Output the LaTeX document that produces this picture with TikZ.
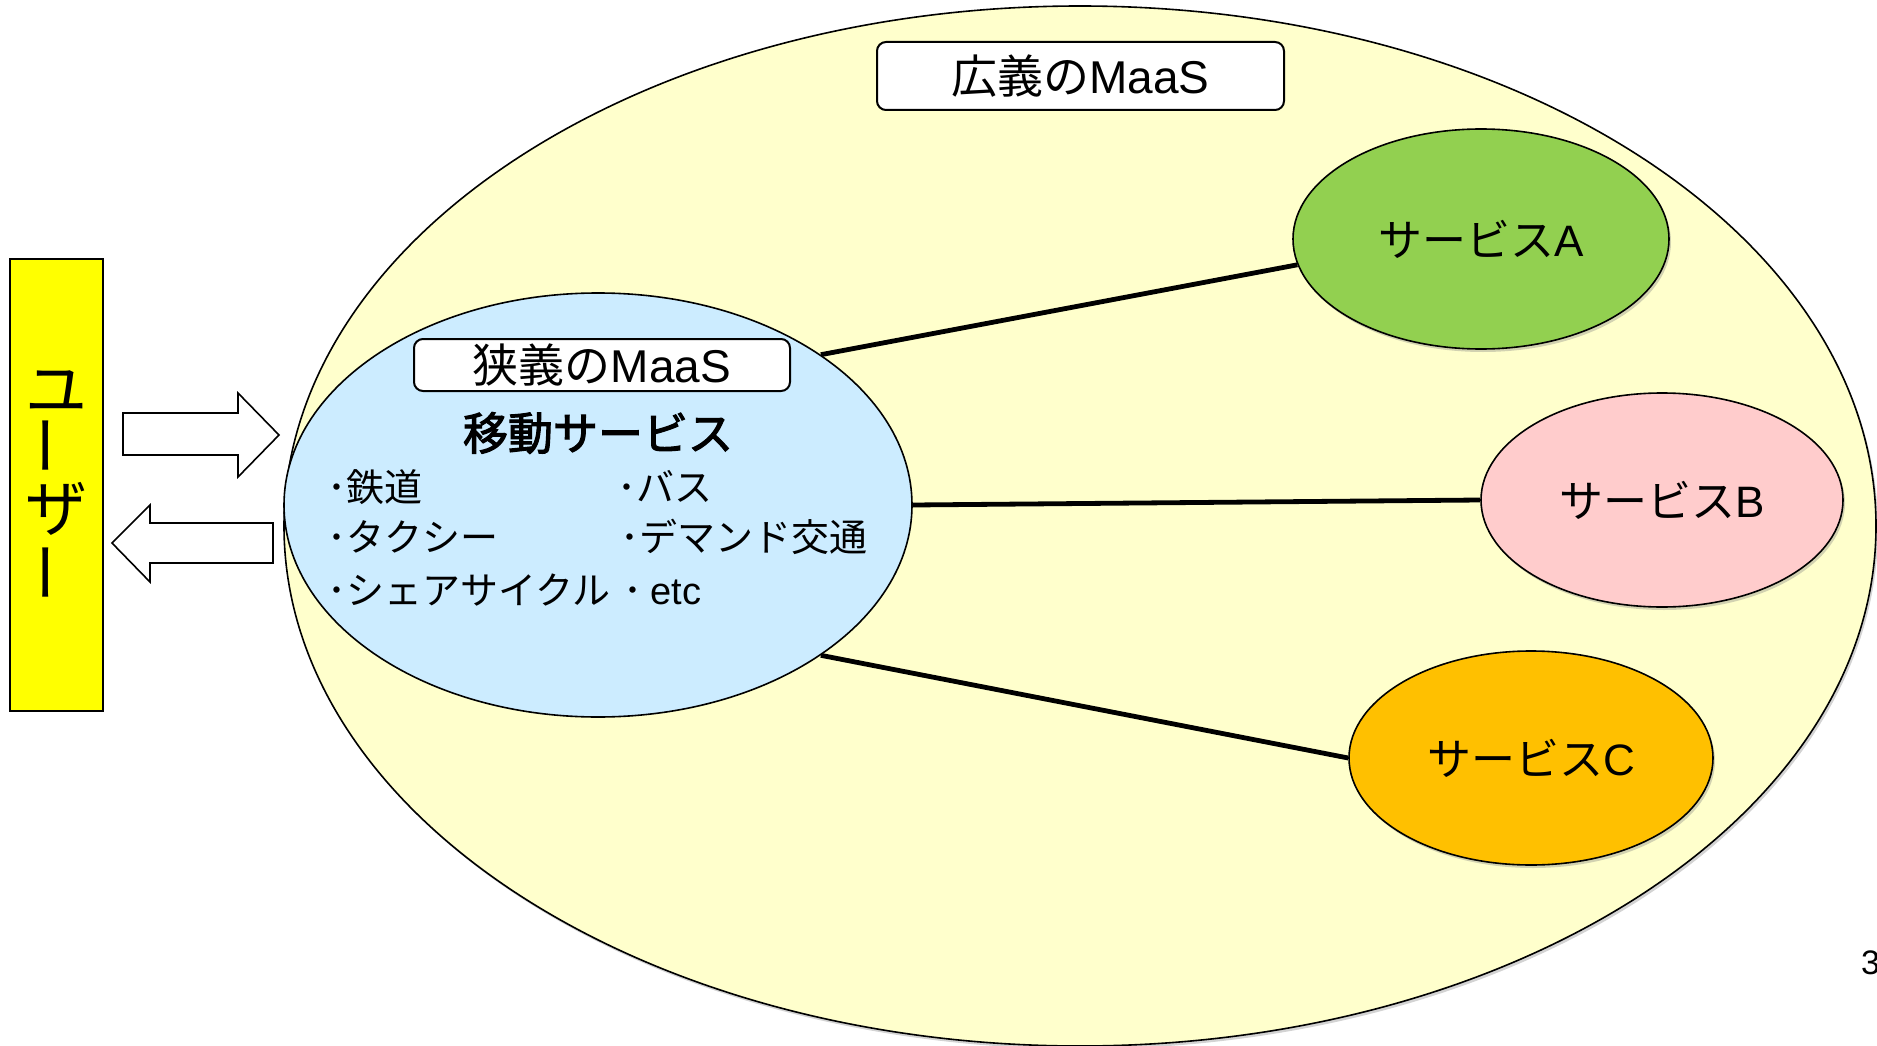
\documentclass[tikz,border=0pt]{standalone}
\usepackage{fontspec}
\setmainfont{Noto Sans CJK JP}
\newfontfamily\lat{Liberation Sans}
\newfontfamily\jpbold{Noto Sans CJK JP}[FakeBold=2.5]
\usetikzlibrary{shadows,shapes.geometric}
\definecolor{bigyellow}{HTML}{FFFFCC}
\definecolor{lightblue}{HTML}{CCECFF}
\definecolor{svcgreen}{HTML}{92D050}
\definecolor{svcpink}{HTML}{FFCCCC}
\definecolor{svcorange}{HTML}{FFC000}
\definecolor{useryellow}{HTML}{FFFF00}
\tikzset{
  oval/.style={ellipse, draw=black, line width=1.6pt, inner sep=0pt},
  shadowed/.style={drop shadow={opacity=0.35, shadow xshift=2pt, shadow yshift=-3pt}},
  roundbox/.style={draw=black, line width=2pt, rounded corners=9pt, fill=white, inner sep=0pt},
  conn/.style={line width=4.8pt, black},
  blockarrow/.style={draw=black, line width=1.6pt, fill=white, line join=miter},
  svctext/.style={font=\fontsize{44}{50}\selectfont},
  itemtext/.style={font=\fontsize{38}{44}\selectfont, anchor=base west, inner sep=0pt},
  usertext/.style={font=\fontsize{62}{66}\selectfont, inner sep=0pt}
}
\begin{document}
\begin{tikzpicture}[x=1pt, y=-1pt]
\useasboundingbox (0,0) rectangle (1877,1046);

% big ellipse (broad MaaS)
\node[oval, shadowed, fill=bigyellow, minimum width=1592pt, minimum height=1040pt] (big) at (1080,526) {};
\node[roundbox, minimum width=407pt, minimum height=68pt, font=\fontsize{46}{50}\selectfont] (broad) at (1080.5,76) {広義の{\lat MaaS}};

% service ellipses
\node[oval, shadowed, fill=svcgreen, minimum width=376pt, minimum height=220pt, svctext] (A) at (1481,239) {サービス{\lat A}};
\node[oval, shadowed, fill=svcpink, minimum width=362pt, minimum height=214pt, svctext] (B) at (1662,500) {サービス{\lat B}};
\node[oval, shadowed, fill=svcorange, minimum width=364pt, minimum height=214pt, svctext] (C) at (1531,758) {サービス{\lat C}};

% narrow MaaS ellipse
\node[oval, fill=lightblue, minimum width=628pt, minimum height=424pt] (narrow) at (598,505) {};
\node[roundbox, minimum width=376pt, minimum height=52pt, font=\fontsize{46}{50}\selectfont] (narrowlabel) at (602,365) {狭義の{\lat MaaS}};
\node[font=\fontsize{45}{50}\jpbold, inner sep=0pt] (mobility) at (598,433) {移動サービス};

\node[itemtext] (i1) at (327,501) {･鉄道};
\node[itemtext] (i2) at (327,551) {･タクシー};
\node[itemtext] (i3) at (327,604) {･シェアサイクル};
\node[itemtext] (i4) at (617,501) {･バス};
\node[itemtext] (i5) at (620,551) {･デマンド交通};
\node[itemtext] (i6) at (623,604) {･ {\lat etc}};

% connectors
\draw[conn] (narrow.34) -- (A.188);
\draw[conn] (narrow.0) -- (B.180);
\draw[conn] (narrow.-34) -- (C.180);

% user box
\node[draw=black, line width=1.4pt, fill=useryellow, minimum width=93pt, minimum height=452pt, inner sep=0pt] (user) at (56.5,485) {};
\node[usertext] (u1) at (56,392) {ユ};
\node[usertext, rotate=90] (u2) at (56,445) {ー};
\node[usertext] (u3) at (56,509) {ザ};
\node[usertext, rotate=90] (u4) at (56,572) {ー};

% block arrows
\draw[blockarrow] (123,413) -- (238,413) -- (238,393) -- (279,435) -- (238,477) -- (238,455) -- (123,455) -- cycle;
\draw[blockarrow] (273,523) -- (150,523) -- (150,505) -- (112,543) -- (150,582) -- (150,563) -- (273,563) -- cycle;

% page number
\node[font=\lat\fontsize{34}{40}\selectfont, anchor=west, inner sep=0pt] (page) at (1861,963) {3};
\end{tikzpicture}
\end{document}
